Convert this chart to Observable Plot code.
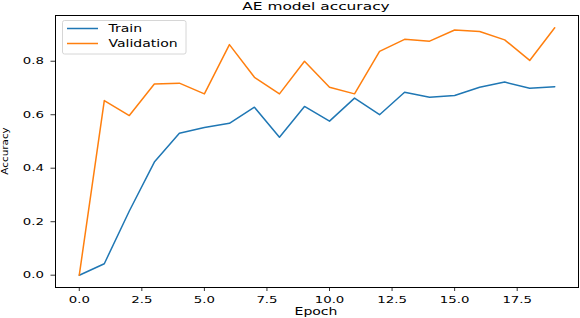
<!DOCTYPE html>
<html><head><meta charset="utf-8">
<script src="https://cdn.jsdelivr.net/npm/d3@7"></script>
<script src="https://cdn.jsdelivr.net/npm/@observablehq/plot@0.6"></script>
<style>body{margin:0;background:#fff} svg{display:block}</style>
</head><body><div id="chart"></div>
<script>
const epochs = [0,1,2,3,4,5,6,7,8,9,10,11,12,13,14,15,16,17,18,19];
const train = [0.0,0.043,0.24,0.423,0.531,0.552,0.568,0.628,0.516,0.631,0.576,0.662,0.600,0.684,0.665,0.672,0.703,0.722,0.699,0.705];
const validation = [0.0,0.653,0.597,0.715,0.718,0.678,0.862,0.740,0.678,0.800,0.703,0.678,0.837,0.882,0.875,0.917,0.911,0.880,0.803,0.925];
const xTicks = [0,2.5,5,7.5,10,12.5,15,17.5];
const yTicks = [0,0.2,0.4,0.6,0.8];
const seriesNames = ["Train","Validation"];
const seriesColors = ["#1f77b4","#ff7f0e"];
const titleText = "AE model accuracy";
const xLabel = "Epoch";
const yLabel = "Accuracy";

const rows = epochs.flatMap((e,i)=>[
  {epoch:e, acc:train[i], series:seriesNames[0]},
  {epoch:e, acc:validation[i], series:seriesNames[1]}
]);

const chart = Plot.plot({
  width:580, height:318, marginLeft:55, marginRight:2, marginTop:15, marginBottom:31,
  style:{fontFamily:"DejaVu Sans", fontSize:"9.5px", background:"white", color:"black", overflow:"visible"},
  x:{domain:[-0.95,19.95]},
  y:{domain:[-0.046,0.971]},
  color:{domain:seriesNames, range:seriesColors},
  marks:[
    Plot.axisX({ticks:xTicks, tickFormat:d3.format(".1f"), tickSize:4, tickPadding:5, label:null, stroke:"#000", strokeWidth:0.8}),
    Plot.axisY({ticks:yTicks, tickFormat:d3.format(".1f"), tickSize:4.5, tickPadding:7, label:null, stroke:"#000", strokeWidth:0.8}),
    Plot.line(rows, {x:"epoch", y:"acc", stroke:"series", strokeWidth:1.5}),
    Plot.frame({stroke:"black", strokeWidth:1})
  ]
});
document.getElementById("chart").append(chart);

const svg = d3.select(chart);
svg.append("text").attr("x",316).attr("y",10)
  .attr("text-anchor","middle").attr("font-size","11px").attr("fill","#000").text(titleText);
svg.append("text").attr("x",316).attr("y",315)
  .attr("text-anchor","middle").attr("font-size","10px").attr("fill","#000").text(xLabel);
svg.append("text").attr("class","rot").attr("transform","translate(8,151) rotate(-90)")
  .attr("text-anchor","middle").attr("font-size","8px").attr("fill","#000").text(yLabel);

// legend
const lg = svg.append("g");
lg.append("rect").attr("x",62.5).attr("y",20.5).attr("width",123.5).attr("height",33.5)
  .attr("rx",2).attr("fill","white").attr("fill-opacity",0.8).attr("stroke","#cccccc").attr("stroke-width",0.8);
seriesNames.forEach((name,i)=>{
  const y = 28.5 + i*15;
  lg.append("line").attr("x1",67).attr("x2",98).attr("y1",y).attr("y2",y)
    .attr("stroke",seriesColors[i]).attr("stroke-width",1.5);
  lg.append("text").attr("x",108.5).attr("y",y+3.6).attr("text-anchor","start")
    .attr("font-size","10px").attr("fill","#000").text(name);
});

// horizontal glyph stretch to match the reference's wide lettering
chart.querySelectorAll("text").forEach(t=>{
  const L = t.getComputedTextLength();
  if (!L) return;
  const f = t.classList.contains("rot") ? 1.3 : 1.4;
  t.setAttribute("textLength", L*f);
  t.setAttribute("lengthAdjust","spacingAndGlyphs");
});
</script>
</body></html>
